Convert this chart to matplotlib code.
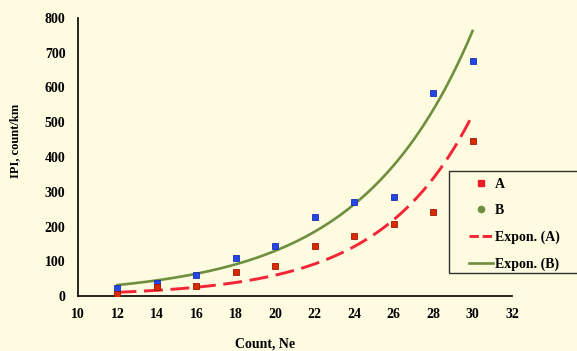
import numpy as np
import matplotlib
matplotlib.use("Agg")
import matplotlib.pyplot as plt
from matplotlib.lines import Line2D
from matplotlib.patches import Rectangle

# Data
count_ne = [12, 14, 16, 18, 20, 22, 24, 26, 28, 30]
ipi_A = [5, 25, 30, 70, 86, 143, 173, 208, 241, 447]
ipi_B = [24, 38, 60, 108, 143, 226, 270, 284, 584, 677]
# Exponential trendline coefficients y = a * exp(b * x), as shown on chart
trend_A = (0.79, 0.2164)
trend_B = (3.78, 0.1769)
trend_range = (12, 30)
x_ticks = list(range(10, 33, 2))
y_ticks = list(range(0, 801, 100))

bg = "#FEFBE1"
plt.rcParams['font.family'] = ['Liberation Serif', 'DejaVu Serif']
plt.rcParams['font.weight'] = 'bold'

fig = plt.figure(figsize=(5.77, 3.51), dpi=100, facecolor=bg)
ax = fig.add_axes([78/577, 1-296/351, (512-78)/577, (296-18)/351])
ax.set_facecolor(bg)

red_dash = (6.5, 2.6)
xs = np.linspace(trend_range[0], trend_range[1], 200)
ax.plot(xs, trend_B[0]*np.exp(trend_B[1]*xs), color="#6E8F3E", lw=1.9, zorder=2)
ax.plot(xs, trend_A[0]*np.exp(trend_A[1]*xs), color="#F42535", lw=2.1,
        dashes=red_dash, zorder=2)

ax.plot(count_ne, ipi_B, linestyle='none', marker='s', markersize=5,
        markerfacecolor="#2446E6", markeredgecolor="#1530B0", markeredgewidth=0.6, zorder=3)
ax.plot(count_ne, ipi_A, linestyle='none', marker='s', markersize=5,
        markerfacecolor="#D82A05", markeredgecolor="#A01800", markeredgewidth=0.6, zorder=3)

ax.set_xlim(10, 32)
ax.set_ylim(0, 800)
ax.set_xticks(x_ticks)
ax.set_yticks(y_ticks)
ax.tick_params(length=0, labelsize=10)
ax.tick_params(axis='x', pad=9)
ax.tick_params(axis='y', pad=9)
for lab in ax.get_xticklabels() + ax.get_yticklabels():
    lab.set_fontweight('bold')
ax.spines['top'].set_visible(False)
ax.spines['right'].set_visible(False)
for s in ('left', 'bottom'):
    ax.spines[s].set_linewidth(1.2)
    ax.spines[s].set_color('black')

fig.text(15/577, 1-141/351, "IPI, count/km", rotation=90, ha='center', va='center',
         fontsize=9, fontweight='bold')
fig.text(265/577, 1-344/351, "Count, Ne", ha='center', va='center',
         fontsize=10, fontweight='bold')

# Legend frame
fig.patches.append(Rectangle((449/577, 1-273/351), 160/577, 102/351,
                             transform=fig.transFigure, facecolor=bg,
                             edgecolor='#303030', linewidth=1.0, zorder=1))

handles = [
    Line2D([], [], linestyle='none', marker='s', markersize=5, color="#EE1C25"),
    Line2D([], [], linestyle='none', marker='o', markersize=4.5, color="#6E8F3E"),
    Line2D([], [], color="#F42535", lw=2.1, dashes=(3.2, 1.3)),
    Line2D([], [], color="#6E8F3E", lw=1.9),
]
leg = fig.legend(handles, ["A", "B", "Expon. (A)", "Expon. (B)"],
                 loc='upper left', bbox_to_anchor=(469/577, 1-178/351),
                 bbox_transform=fig.transFigure, borderaxespad=0,
                 frameon=False, fontsize=10,
                 handlelength=1.75, handletextpad=0.1, labelspacing=0.96,
                 borderpad=0)
leg.set_zorder(5)
for t in leg.get_texts():
    t.set_fontweight('bold')

fig.savefig("out.png", dpi=100, facecolor=bg)
